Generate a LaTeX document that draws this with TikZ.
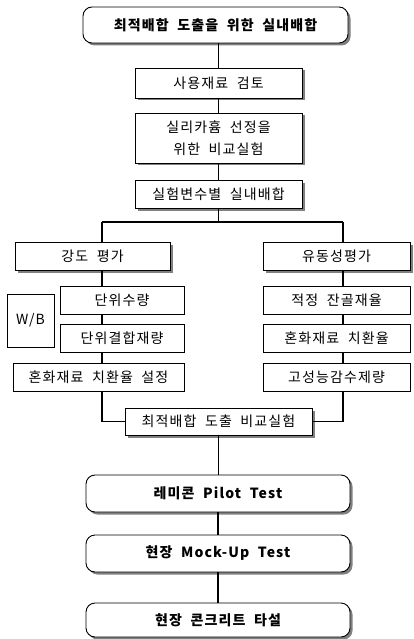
\documentclass[tikz,border=0pt]{standalone}
\usepackage{fontspec}
\setmainfont{Noto Sans CJK KR}[LetterSpace=8, WordSpace=2]
\usetikzlibrary{shadows}
\tikzset{
  box/.style={draw, line width=0.9pt, fill=white, inner sep=0pt, align=center,
    font=\fontsize{14}{22}\selectfont},
  shbox/.style={box, drop shadow={shadow xshift=2.5pt, shadow yshift=-2.5pt, fill=black!50, opacity=1}},
  rbox/.style={shbox, rounded corners=9pt, font=\fontsize{14}{22}\selectfont\bfseries},
  conn/.style={line width=1.3pt}
}
\begin{document}
\begin{tikzpicture}[x=1pt, y=-1pt]
\useasboundingbox (0,0) rectangle (414,639);
% main column
\node[rbox, minimum width=265pt, minimum height=36pt] (n1) at (215.5,25) {최적배합 도출을 위한 실내배합};
\node[shbox, minimum width=167pt, minimum height=30pt] (n2) at (218.5,83) {사용재료 검토};
\node[shbox, minimum width=167pt, minimum height=50pt] (n3) at (218.5,138) {실리카흄 선정을\\위한 비교실험};
\node[shbox, minimum width=167pt, minimum height=28pt] (n4) at (218.5,194) {실험변수별 실내배합};
% branches
\node[shbox, minimum width=155pt, minimum height=28pt] (n5) at (92.5,256) {강도 평가};
\node[shbox, minimum width=147pt, minimum height=28pt] (n6) at (336.5,256) {유동성평가};
\node[box, minimum width=124pt, minimum height=28pt] (n7) at (122,300) {단위수량};
\node[box, minimum width=47pt, minimum height=53pt] (n8) at (30.5,320.5) {W/B};
\node[box, minimum width=124pt, minimum height=28pt] (n9) at (122,338) {단위결합재량};
\node[box, minimum width=171pt, minimum height=28pt] (n10) at (98.5,377) {혼화재료 치환율 설정};
\node[box, minimum width=147pt, minimum height=28pt] (n11) at (336.5,300) {적정 잔골재율};
\node[box, minimum width=147pt, minimum height=28pt] (n12) at (336.5,338) {혼화재료 치환율};
\node[box, minimum width=147pt, minimum height=28pt] (n13) at (336.5,377) {고성능감수제량};
\node[shbox, minimum width=187pt, minimum height=27pt] (n14) at (218.5,421.5) {최적배합 도출 비교실험};
% bottom
\node[rbox, minimum width=264pt, minimum height=37pt] (n15) at (218,493.5) {레미콘 Pilot Test};
\node[rbox, minimum width=264pt, minimum height=37pt] (n16) at (218,553.5) {현장 Mock-Up Test};
\node[rbox, minimum width=264pt, minimum height=34pt] (n17) at (218,620) {현장 콘크리트 타설};
% junctions
\coordinate (jl) at (102,222);
\coordinate (jr) at (343,222);
% connectors
\draw[conn] (n2.north |- n1.south) -- (n2.north);
\draw[conn] (n2.south) -- (n3.north);
\draw[conn] (n3.south) -- (n4.north);
\draw[conn] (n4.south) -- (n4.south |- jl);
\draw[conn] (jl) -- (jr);
\draw[conn] (jl) -- (jl |- n5.north);
\draw[conn] (jr) -- (jr |- n6.north);
\draw[conn] (jl |- n5.south) -- (jl |- n7.north);
\draw[conn] (jl |- n7.south) -- (jl |- n9.north);
\draw[conn] (jl |- n9.south) -- (jl |- n10.north);
\draw[conn] (jl |- n10.south) -- (jl |- n14.west) -- (n14.west);
\draw[conn] (jr |- n6.south) -- (jr |- n11.north);
\draw[conn] (jr |- n11.south) -- (jr |- n12.north);
\draw[conn] (jr |- n12.south) -- (jr |- n13.north);
\draw[conn] (jr |- n13.south) -- (jr |- n14.east) -- (n14.east);
\draw[conn] (n14.south) -- (n14.south |- n15.north);
\draw[conn] (n15.south) -- (n16.north);
\draw[conn] (n16.south) -- (n17.north);
\end{tikzpicture}
\end{document}
